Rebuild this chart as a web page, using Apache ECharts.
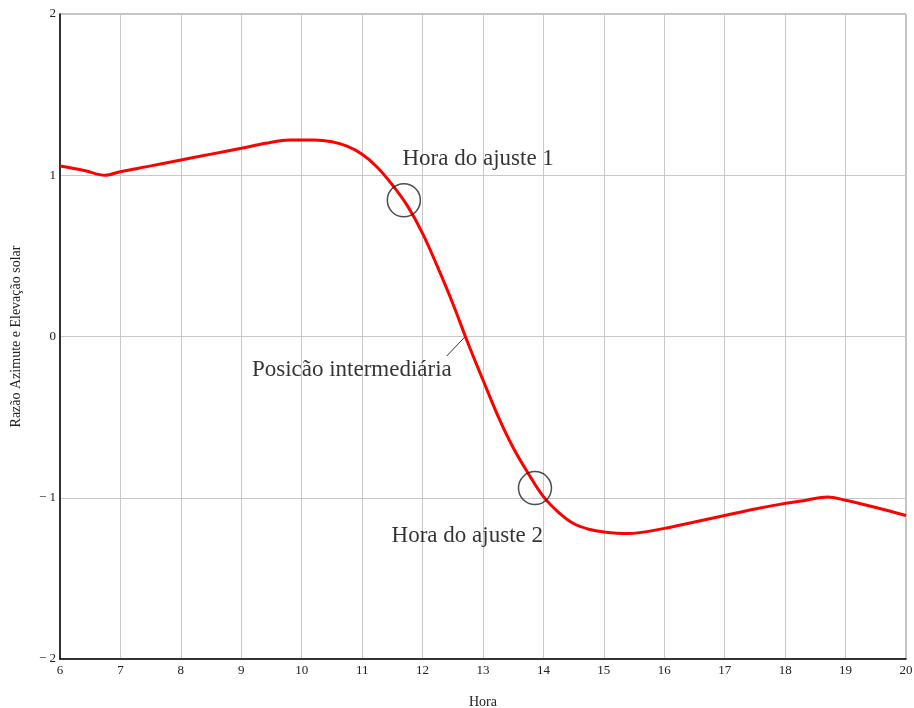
<!DOCTYPE html>
<html><head><meta charset="utf-8">
<script src="https://cdn.jsdelivr.net/npm/echarts@6/dist/echarts.min.js"></script>
<style>html,body{margin:0;padding:0;background:#fff}#c{width:914px;height:708px}</style>
</head><body><div id="c"></div>
<script>
const hours = [6, 6.4, 6.745, 7, 7.5, 8, 8.5, 9, 9.4, 9.8, 10.2, 10.5, 10.75, 11, 11.25, 11.5, 11.75, 12, 12.25, 12.5, 12.75, 13, 13.25, 13.5, 13.75, 14, 14.25, 14.5, 14.75, 15, 15.4, 16, 16.5, 17, 17.5, 18, 18.35, 18.7, 19, 19.5, 20];
const ratio = [1.057, 1.03, 1.0, 1.022, 1.058, 1.095, 1.131, 1.167, 1.198, 1.219, 1.219, 1.208, 1.18, 1.13, 1.05, 0.94, 0.81, 0.64, 0.43, 0.205, -0.04, -0.27, -0.495, -0.69, -0.85, -0.993, -1.09, -1.16, -1.195, -1.212, -1.222, -1.19, -1.15, -1.11, -1.07, -1.035, -1.015, -0.995, -1.015, -1.06, -1.11];
const adjustPoints = [[11.69, 0.845], [13.86, -0.94]];
const annotations = [
  {name: 'Hora do ajuste 1', x: 12.92, y: 1.10},
  {name: 'Posicão intermediária', x: 10.83, y: -0.205},
  {name: 'Hora do ajuste 2', x: 12.74, y: -1.24}
];
const leader = [[12.40, -0.121], [12.70, -0.003]];
const xTicks = [6,7,8,9,10,11,12,13,14,15,16,17,18,19,20];
const yTicks = [-2,-1,0,1,2];

const chart = echarts.init(document.getElementById('c'), null, {renderer:'canvas'});
const serif = '"Liberation Serif", "DejaVu Serif", serif';
chart.setOption({
  animation: false,
  backgroundColor: '#fff',
  grid: {left: 60, right: 8, top: 14, bottom: 49, show: true, borderColor: '#888', borderWidth: 1,
    outerBoundsMode: 'none', containLabel: false},
  xAxis: {
    type: 'value', min: 6, max: 20, interval: 1,
    name: 'Hora', nameLocation: 'middle', nameGap: 36,
    nameTextStyle: {fontFamily: serif, fontSize: 14, color: '#222'},
    axisLine: {show: true, onZero: false, lineStyle: {color: '#000', width: 1.5}},
    axisTick: {show: false},
    axisLabel: {fontFamily: serif, fontSize: 13, color: '#222', margin: 5},
    splitLine: {show: true, lineStyle: {color: '#c8c8c8', width: 1}}
  },
  yAxis: {
    type: 'value', min: -2, max: 2, interval: 1,
    name: 'Razão Azimute e Elevação solar', nameLocation: 'middle', nameGap: 37, nameRotate: 90,
    nameTextStyle: {fontFamily: serif, fontSize: 14, color: '#222'},
    axisLine: {show: true, onZero: false, lineStyle: {color: '#000', width: 1.5}},
    axisTick: {show: false},
    axisLabel: {fontFamily: serif, fontSize: 13, color: '#222', margin: 4,
      formatter: v => v < 0 ? '− ' + Math.abs(v) : String(v)},
    splitLine: {show: true, lineStyle: {color: '#c8c8c8', width: 1}}
  },
  series: [
    {
      type: 'line', data: hours.map((h,i)=>[h, ratio[i]]), smooth: 0.35, showSymbol: false,
      lineStyle: {color: '#ff0000', width: 3}, z: 3
    },
    {
      type: 'scatter', data: adjustPoints, symbol: 'circle', symbolSize: 33,
      itemStyle: {color: 'rgba(0,0,0,0)', borderColor: '#222', borderWidth: 1.5}, z: 4
    },
    {
      type: 'scatter', symbolSize: 0,
      data: annotations.map(a => ({name: a.name, value: [a.x, a.y]})),
      label: {show: true, position: 'inside', formatter: p => p.name,
        fontFamily: serif, fontSize: 23, color: '#000'}, z: 5
    },
    {
      type: 'line', data: leader, showSymbol: false,
      lineStyle: {color: '#333', width: 1}, z: 4
    }
  ]
});
</script></body></html>
